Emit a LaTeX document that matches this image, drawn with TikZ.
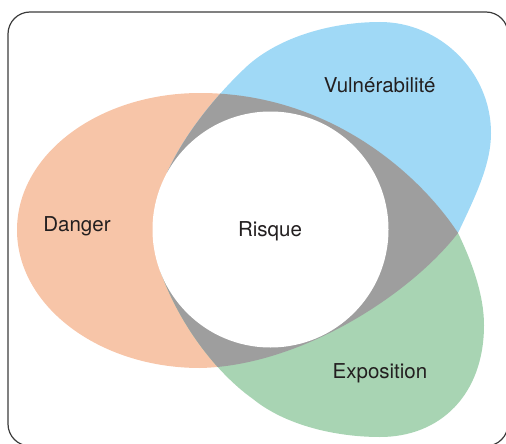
\documentclass[tikz,border=0pt]{standalone}
\usepackage{fontspec}
\setmainfont{TeX Gyre Heros}
\definecolor{cOrange}{RGB}{247,197,168}
\definecolor{cBlue}{RGB}{160,217,246}
\definecolor{cGreen}{RGB}{168,212,179}
\definecolor{cGrey}{RGB}{158,158,158}
\definecolor{cText}{RGB}{35,31,32}
\definecolor{cFrame}{RGB}{60,60,60}
\begin{document}
\begin{tikzpicture}[x=1pt,y=-1pt,
  lbl/.style={text=cText, font=\fontsize{20.5}{24}\selectfont, inner sep=0pt, anchor=base}]
\useasboundingbox (0,0) rectangle (506,444);
\def\orangepath{(458,233) .. controls (420,175) and (330,93) .. (200,93) .. controls (99,93) and (17,154) .. (17,230) .. controls (17,306) and (99,368) .. (200,368) .. controls (300,366) and (410,295) .. (458,233) -- cycle}
\def\bluepath{(458,233) .. controls (475,197) and (491,165) .. (491,133) .. controls (491,72) and (440,22) .. (380,22) .. controls (330,22) and (275,38) .. (243,70) .. controls (222,90) and (186,130) .. (167,173) -- (190,225) -- (390,240) -- cycle}
\def\greenpath{(458,233) .. controls (472,262) and (484,295) .. (484,325) .. controls (484,395) and (440,437) .. (380,437) .. controls (335,437) and (285,425) .. (253,399) .. controls (215,372) and (178,322) .. (160,270) -- (190,240) -- (390,226) -- cycle}
\fill[cOrange] \orangepath;
\fill[cBlue] \bluepath;
\fill[cGreen] \greenpath;
\begin{scope}
  \clip \orangepath;
  \fill[cGrey] \bluepath;
  \fill[cGrey] \greenpath;
\end{scope}
\fill[white] (270.5,229.5) circle [radius=118pt];
\draw[cFrame, line width=1.2pt, rounded corners=22pt] (8,12) rectangle (508,446);
\node[lbl] (vul) at (379.7,92.3) {Vulnérabilité};
\node[lbl] (dan) at (77,231.7) {Danger};
\node[lbl] (ris) at (270,236.7) {Risque};
\node[lbl] (expo) at (380,378) {Exposition};
\end{tikzpicture}
\end{document}
